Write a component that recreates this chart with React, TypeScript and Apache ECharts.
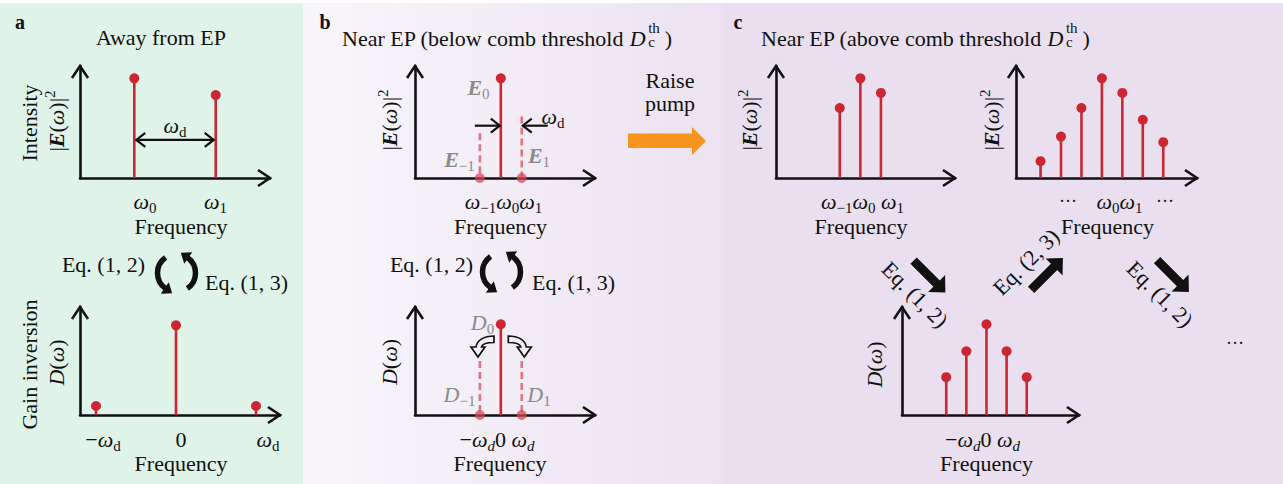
import React, { useEffect, useRef } from 'react';
import * as echarts from 'echarts';

const W = 1283;
const H = 484;
const FONT = '"Liberation Serif", "Times New Roman", Times, serif';
const INK = '#111111';
const RED = '#cc2632';
const GHOST_RED = 'rgba(212, 72, 86, 0.72)';
const GRAY = '#8a8a8a';
const ORANGE = '#f7941d';

// ---------------- data ----------------
// a: away from EP
const aTopFreq = [0, 3];
const aTopIntensity = [0.89, 0.74];
const aBotFreq = [-1, 0, 1];
const aBotGain = [0.083, 0.83, 0.083];
// b: near EP, below comb threshold
const bFreq = [-1, 0, 1];
const bTopIntensity = [0, 0.89, 0];
const bTopPotential = [0.4, 0, 0.55];
const bBotGain = [0, 0.84, 0];
const bBotPotential = [0.5, 0, 0.5];
// c: near EP, above comb threshold
const c1Freq = [-1, 0, 1];
const c1Intensity = [0.625, 0.89, 0.76];
const c2Freq = [-3, -2, -1, 0, 1, 2, 3];
const c2Intensity = [0.15, 0.37, 0.625, 0.89, 0.76, 0.52, 0.32];
const c3Freq = [-2, -1, 0, 1, 2];
const c3Gain = [0.35, 0.59, 0.84, 0.59, 0.35];

// tick labels (rich text)
const aTopTicks = ['{i|ω}{s|0}', '{i|ω}{s|1}'];
const aBotTicks = ['{n|−}{i|ω}{s|d}', '{n|0}', '{i|ω}{s|d}'];
const bTopTicks = '{i|ω}{s|−1}{i|ω}{s|0}{i|ω}{s|1}';
const bBotTicks = '{n|−}{i|ω}{si|d}{n|0 }{i|ω}{si|d}';
const c1Ticks = '{i|ω}{s|−1}{i|ω}{s|0}{n| }{i|ω}{s|1}';
const c2Ticks = ['{dots|···}', '{i|ω}{s|0}{i|ω}{s|1}', '{dots|···}'];
const c3Ticks = '{n|−}{i|ω}{si|d}{n|0 }{i|ω}{si|d}';

// ---------------- layout ----------------
type G = { left: number; top: number; width: number; height: number; xMin: number; xMax: number };
const GRIDS: G[] = [
  { left: 80, top: 66, width: 190, height: 112, xMin: -2, xMax: 5 }, // a top
  { left: 80, top: 307, width: 200, height: 108, xMin: -1.2, xMax: 1.3 }, // a bottom
  { left: 415, top: 66, width: 180, height: 112, xMin: -4.1, xMax: 4.5 }, // b top
  { left: 415, top: 307, width: 180, height: 108, xMin: -4.1, xMax: 4.5 }, // b bottom
  { left: 776, top: 66, width: 179, height: 112, xMin: -4.1, xMax: 4.6 }, // c1
  { left: 1016, top: 66, width: 181, height: 112, xMin: -4.2, xMax: 4.65 }, // c2
  { left: 902, top: 307, width: 177, height: 108, xMin: -4.2, xMax: 4.6 }, // c3
];

// curled outline arrow (panel b bottom)
const CURL = 'M 23 0 C 13 0 6 4 5 11 L 0 11 L 7 21 L 14 11 L 10.5 11 C 11 8 15 6.5 23 6.5 Z';
try {
  echarts.graphic.registerShape('curlArrow', (echarts.graphic as any).extendPath(CURL, {}));
} catch (e) {
  /* already registered */
}

function stem(gi: number, xs: number[], ys: number[], color: string, dashed = false) {
  return {
    type: 'custom',
    xAxisIndex: gi,
    yAxisIndex: gi,
    z: 3,
    silent: true,
    clip: false,
    data: xs.map((x, k) => [x, ys[k]]).filter((d) => d[1] > 0),
    renderItem: (_p: any, api: any) => {
      const t = api.coord([api.value(0), api.value(1)]);
      const b = api.coord([api.value(0), 0]);
      const style: any = { stroke: color, lineWidth: 2.6, fill: null };
      if (dashed) style.lineDash = [7, 4];
      return { type: 'line', shape: { x1: t[0], y1: t[1], x2: b[0], y2: b[1] }, style };
    },
  };
}

function dots(gi: number, xs: number[], ys: number[], color: string, keep: (v: number) => boolean = () => true) {
  return {
    type: 'scatter',
    xAxisIndex: gi,
    yAxisIndex: gi,
    z: 4,
    silent: true,
    clip: false,
    symbol: 'circle',
    symbolSize: 10,
    itemStyle: { color, opacity: 1 },
    data: xs.map((x, k) => [x, ys[k]]).filter((d) => keep(d[1])),
  };
}

function buildOption() {
  const axisLine = { show: true, onZero: false, lineStyle: { color: INK, width: 2.6 } };
  return {
    animation: false,
    backgroundColor: '#ffffff',
    grid: GRIDS.map((g) => ({ left: g.left, top: g.top, width: g.width, height: g.height, containLabel: false })),
    xAxis: GRIDS.map((g, i) => ({
      type: 'value',
      gridIndex: i,
      min: g.xMin,
      max: g.xMax,
      axisLine,
      axisTick: { show: false },
      axisLabel: { show: false },
      splitLine: { show: false },
    })),
    yAxis: GRIDS.map((_g, i) => ({
      type: 'value',
      gridIndex: i,
      min: 0,
      max: 1,
      axisLine,
      axisTick: { show: false },
      axisLabel: { show: false },
      splitLine: { show: false },
    })),
    series: [
      stem(0, aTopFreq, aTopIntensity, RED),
      dots(0, aTopFreq, aTopIntensity, RED),
      stem(1, aBotFreq, aBotGain, RED),
      dots(1, aBotFreq, aBotGain, RED),
      stem(2, bFreq, bTopIntensity, RED),
      stem(2, bFreq, bTopPotential, GHOST_RED, true),
      dots(2, bFreq, bTopIntensity, RED, (v) => v > 0),
      dots(2, bFreq, bTopIntensity, GHOST_RED, (v) => v === 0),
      stem(3, bFreq, bBotGain, RED),
      stem(3, bFreq, bBotPotential, GHOST_RED, true),
      dots(3, bFreq, bBotGain, RED, (v) => v > 0),
      dots(3, bFreq, bBotGain, GHOST_RED, (v) => v === 0),
      stem(4, c1Freq, c1Intensity, RED),
      dots(4, c1Freq, c1Intensity, RED),
      stem(5, c2Freq, c2Intensity, RED),
      dots(5, c2Freq, c2Intensity, RED),
      stem(6, c3Freq, c3Gain, RED),
      dots(6, c3Freq, c3Gain, RED),
    ],
  };
}

function richFor(color: string) {
  const base = { fontFamily: FONT, color, fill: color };
  return {
    n: { ...base, fontSize: 22, lineHeight: 28 },
    i: { ...base, fontSize: 22, lineHeight: 28, fontStyle: 'italic' },
    bi: { ...base, fontSize: 22, lineHeight: 28, fontStyle: 'italic', fontWeight: 'bold' },
    b: { ...base, fontSize: 20, lineHeight: 28, fontWeight: 'bold' },
    s: { ...base, fontSize: 15, lineHeight: 15, verticalAlign: 'bottom' },
    si: { ...base, fontSize: 15, lineHeight: 15, verticalAlign: 'bottom', fontStyle: 'italic' },
    p: { ...base, fontSize: 15, lineHeight: 15, verticalAlign: 'top' },
    sm: { ...base, fontSize: 15, lineHeight: 11 },
    dots: { ...base, fontSize: 18, lineHeight: 28 },
  };
}
const RICH_INK = richFor(INK);
const RICH_GRAY = richFor(GRAY);

function T(x: number, y: number, text: string, o: { align?: string; rot?: number; gray?: boolean } = {}) {
  const color = o.gray ? GRAY : INK;
  const align = o.align || 'center';
  return {
    type: 'text',
    z: 10,
    x,
    y,
    rotation: o.rot || 0,
    silent: true,
    style: {
      text,
      rich: o.gray ? RICH_GRAY : RICH_INK,
      textAlign: align,
      align,
      textVerticalAlign: 'middle',
      verticalAlign: 'middle',
      fill: color,
      fontFamily: FONT,
      fontSize: 22,
    },
  };
}

function chev(x: number, y: number, dir: string, len = 12, half = 8, w = 2.6) {
  let pts: number[][];
  if (dir === 'right') pts = [[x - len, y - half], [x, y], [x - len, y + half]];
  else if (dir === 'left') pts = [[x + len, y - half], [x, y], [x + len, y + half]];
  else pts = [[x - half, y + len], [x, y], [x + half, y + len]];
  return { type: 'polyline', z: 10, silent: true, shape: { points: pts }, style: { stroke: INK, lineWidth: w, fill: null, lineJoin: 'miter' } };
}

function seg(x1: number, y1: number, x2: number, y2: number, w = 2.2) {
  return { type: 'line', z: 10, silent: true, shape: { x1, y1, x2, y2 }, style: { stroke: INK, lineWidth: w } };
}

function cycle(cx: number, cy: number) {
  const r = 19;
  const a = (55 * Math.PI) / 180;
  const out: any[] = [];
  const head = (th: number) => {
    const ex = cx + r * Math.cos(th);
    const ey = cy + r * Math.sin(th);
    const tx = Math.sin(th);
    const ty = -Math.cos(th);
    const nx = -ty;
    const ny = tx;
    const pts = [
      [ex + tx * 8, ey + ty * 8],
      [ex + nx * 7 - tx * 1, ey + ny * 7 - ty * 1],
      [ex - nx * 7 - tx * 1, ey - ny * 7 - ty * 1],
    ];
    return { type: 'polygon', z: 10, silent: true, shape: { points: pts }, style: { fill: INK } };
  };
  out.push({
    type: 'arc', z: 10, silent: true,
    shape: { cx, cy, r, startAngle: Math.PI - a, endAngle: Math.PI + a, clockwise: true },
    style: { stroke: INK, lineWidth: 5.5, fill: null },
  });
  out.push(head(Math.PI - a));
  out.push({
    type: 'arc', z: 10, silent: true,
    shape: { cx, cy, r, startAngle: -a, endAngle: a, clockwise: true },
    style: { stroke: INK, lineWidth: 5.5, fill: null },
  });
  out.push(head(-a));
  return out;
}

const BLOCK = [[-22.5, -4.5], [10, -4.5], [10, -12], [22.5, 0], [10, 12], [10, 4.5], [-22.5, 4.5]];
function block(x: number, y: number, rot: number) {
  return { type: 'polygon', z: 10, silent: true, x, y, rotation: rot, shape: { points: BLOCK }, style: { fill: INK } };
}

let measureCtx: CanvasRenderingContext2D | null = null;
function tw(text: string, font: string) {
  if (!measureCtx) measureCtx = document.createElement('canvas').getContext('2d');
  if (!measureCtx) return text.length * 10;
  measureCtx.font = font;
  return measureCtx.measureText(text).width;
}

function titleWithThreshold(x0: number, y: number, words: string) {
  const pre = `Near EP (${words} comb threshold `;
  const wPre = tw(pre, `22px ${FONT}`);
  const wD = tw('D', `italic 22px ${FONT}`);
  const xs = x0 + wPre + wD + 2.5;
  const wTh = tw('th', `15px ${FONT}`);
  return [
    T(x0, y, `{n|${pre}}{i|D}`, { align: 'left' }),
    T(xs, y - 10, '{sm|th}', { align: 'left' }),
    T(xs, y + 3.5, '{sm|c}', { align: 'left' }),
    T(xs + wTh + 5, y, '{n|)}', { align: 'left' }),
  ];
}

function buildGraphics(chart: any) {
  const px = (gi: number, x: number, y: number): number[] => {
    let p: any = null;
    try {
      p = chart.convertToPixel({ gridIndex: gi }, [x, y]);
    } catch (e) {
      p = null;
    }
    if (!p || !isFinite(p[0]) || !isFinite(p[1])) {
      const g = GRIDS[gi];
      p = [g.left + ((x - g.xMin) / (g.xMax - g.xMin)) * g.width, g.top + g.height * (1 - y)];
    }
    return p;
  };

  const els: any[] = [];
  // panel backgrounds
  els.push({ type: 'rect', z: -10, silent: true, shape: { x: 0, y: 3, width: 303, height: H - 3 }, style: { fill: '#dff3e9' } });
  els.push({
    type: 'rect', z: -10, silent: true, shape: { x: 303, y: 3, width: 421, height: H - 3 },
    style: { fill: { type: 'linear', x: 0, y: 0, x2: 1, y2: 0, colorStops: [{ offset: 0, color: '#f9f6fb' }, { offset: 1, color: '#ece2f1' }] } },
  });
  els.push({ type: 'rect', z: -10, silent: true, shape: { x: 724, y: 3, width: W - 724, height: H - 3 }, style: { fill: '#e9dfef' } });

  // axis arrowheads
  GRIDS.forEach((g, gi) => {
    const r = px(gi, g.xMax, 0);
    const t = px(gi, g.xMin, 1);
    els.push(chev(r[0], r[1], 'right'));
    els.push(chev(t[0], t[1], 'up'));
  });

  // panel letters & titles
  els.push(T(20, 21.5, '{b|a}'), T(325, 21.5, '{b|b}'), T(738, 22, '{b|c}'));
  els.push(T(161, 37, '{n|Away from EP}'));
  els.push(...titleWithThreshold(342, 38, 'below'));
  els.push(...titleWithThreshold(761, 38, 'above'));

  // y-axis labels
  const R = Math.PI / 2;
  const Elabel = '{n||}{bi|E}{n|(}{i|ω}{n|)|}{p|2}';
  const Dlabel = '{i|D}{n|(}{i|ω}{n|)}';
  els.push(T(29, 123, '{n|Intensity}', { rot: R }));
  els.push(T(56, 121, Elabel, { rot: R }));
  els.push(T(29, 364.5, '{n|Gain inversion}', { rot: R }));
  els.push(T(56, 362.5, Dlabel, { rot: R }));
  els.push(T(389.5, 120, Elabel, { rot: R }));
  els.push(T(389.5, 362, Dlabel, { rot: R }));
  els.push(T(749.5, 120, Elabel, { rot: R }));
  els.push(T(991.5, 120, Elabel, { rot: R }));
  els.push(T(874.5, 364.5, Dlabel, { rot: R }));

  // tick labels
  els.push(T(145, 201, aTopTicks[0]), T(215.5, 201, aTopTicks[1]));
  els.push(T(103, 439, aBotTicks[0]), T(181, 439, aBotTicks[1]), T(268, 439, aBotTicks[2]));
  els.push(T(503.5, 201, bTopTicks));
  els.push(T(497, 439, bBotTicks));
  els.push(T(862.5, 201, c1Ticks));
  els.push(T(1068, 201, c2Ticks[0]), T(1119.5, 201, c2Ticks[1]), T(1165, 201, c2Ticks[2]));
  els.push(T(982.5, 439, c3Ticks));

  // axis titles
  const F = '{n|Frequency}';
  els.push(T(181, 226, F), T(181, 463.5, F), T(500.5, 226, F), T(500, 463.5, F));
  els.push(T(861, 226, F), T(1107.5, 226, F), T(986.5, 463.5, F));

  // panel a: frequency spacing arrow
  {
    const p0 = px(0, aTopFreq[0], 0.34);
    const p1 = px(0, aTopFreq[1], 0.34);
    els.push(seg(p0[0] + 2, p0[1], p1[0] - 2, p1[1]));
    els.push(chev(p0[0] + 2, p0[1], 'left', 9, 7, 2.2), chev(p1[0] - 2, p1[1], 'right', 9, 7, 2.2));
    els.push(T((p0[0] + p1[0]) / 2, 125, '{i|ω}{s|d}'));
  }
  // panel b: pinching arrows
  {
    const s0 = px(2, bFreq[1], 0.467);
    const s1 = px(2, bFreq[2], 0.467);
    els.push(seg(s0[0] - 26, s0[1], s0[0] - 1, s0[1]), chev(s0[0] - 1, s0[1], 'right', 9, 7, 2.2));
    els.push(seg(s1[0] + 26, s1[1], s1[0] + 1, s1[1]), chev(s1[0] + 1, s1[1], 'left', 9, 7, 2.2));
    els.push(T(553, 116.5, '{i|ω}{s|d}'));
  }
  // panel b: grey component labels
  els.push(T(478.5, 87.2, '{bi|E}{s|0}', { gray: true }));
  els.push(T(459.5, 159, '{bi|E}{s|−1}', { gray: true }));
  els.push(T(539, 155.6, '{bi|E}{s|1}', { gray: true }));
  els.push(T(482.5, 322.2, '{i|D}{s|0}', { gray: true }));
  els.push(T(459.5, 394, '{i|D}{s|−1}', { gray: true }));
  els.push(T(539, 394, '{i|D}{s|1}', { gray: true }));
  // curled outline arrows
  els.push({ type: 'curlArrow', z: 10, silent: true, x: 471, y: 336, scaleX: 1, scaleY: 1, style: { fill: 'none', stroke: INK, lineWidth: 1.7 } });
  els.push({ type: 'curlArrow', z: 10, silent: true, x: 531.3, y: 336, scaleX: -1, scaleY: 1, style: { fill: 'none', stroke: INK, lineWidth: 1.7 } });

  // equation cycles
  els.push(T(145, 264, '{n|Eq. (1, 2)}', { align: 'right' }));
  els.push(T(205, 282, '{n|Eq. (1, 3)}', { align: 'left' }));
  els.push(...cycle(176.5, 273));
  els.push(T(473, 264, '{n|Eq. (1, 2)}', { align: 'right' }));
  els.push(T(532, 282, '{n|Eq. (1, 3)}', { align: 'left' }));
  els.push(...cycle(501.5, 272));

  // raise pump
  els.push(T(670, 80.6, '{n|Raise}'), T(670, 103.6, '{n|pump}'));
  els.push({
    type: 'polygon', z: 10, silent: true,
    shape: { points: [[628, 133.5], [692, 133.5], [692, 127], [706, 141], [692, 155], [692, 148], [628, 148]] },
    style: { fill: ORANGE },
  });

  // panel c: iteration arrows
  els.push(block(929.5, 276.5, -Math.PI / 4));
  els.push(block(1047, 274, Math.PI / 4));
  els.push(block(1173, 276, -Math.PI / 4));
  els.push(T(915, 294.5, '{n|Eq. (1, 2)}', { rot: -Math.PI / 4 }));
  els.push(T(1026, 262, '{n|Eq. (2, 3)}', { rot: Math.PI / 4 }));
  els.push(T(1160, 294, '{n|Eq. (1, 2)}', { rot: -Math.PI / 4 }));
  els.push(T(1235, 342.5, '{dots|···}'));

  return els;
}

export default function App() {
  const ref = useRef<HTMLDivElement>(null);
  useEffect(() => {
    const el = ref.current;
    if (!el) return;
    const chart = echarts.init(el, null, { renderer: 'svg', width: W, height: H });
    chart.setOption(buildOption() as any);
    chart.setOption({ graphic: { elements: buildGraphics(chart) } } as any);
    return () => chart.dispose();
  }, []);
  return <div ref={ref} style={{ position: 'absolute', left: 0, top: 0, width: W, height: H }} />;
}
